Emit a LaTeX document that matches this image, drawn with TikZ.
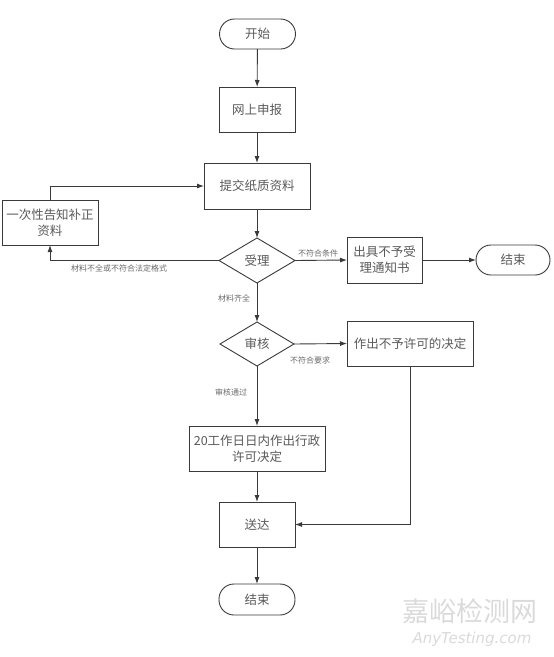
\documentclass[tikz,border=0pt]{standalone}
\usepackage{fontspec}
\newfontfamily\cjk{Noto Sans CJK SC}
\newfontfamily\wmlat{DejaVu Sans}
\usetikzlibrary{arrows.meta,shapes.geometric}
\definecolor{linec}{HTML}{3A3A3A}
\definecolor{textc}{HTML}{5A5A5A}
\definecolor{labc}{HTML}{6A6A6A}
\definecolor{wmc}{HTML}{DADADA}
\begin{document}
\begin{tikzpicture}[x=1pt,y=-1pt,
  box/.style={draw=linec, line width=0.9pt, fill=white, align=center, inner sep=1pt, outer sep=0pt,
    font=\cjk\fontsize{12.5}{16}\selectfont, text=textc},
  term/.style={box, rounded corners=15pt},
  dia/.style={box, diamond, inner sep=0pt},
  lab/.style={font=\cjk\fontsize{8}{9}\selectfont, text=labc, inner sep=0pt},
  conn/.style={draw=linec, line width=0.9pt},
  arr/.style={conn, -{Latex[length=7pt,width=5pt]}}]
\useasboundingbox (0,0) rectangle (554,657);
% watermark
\node[font=\cjk\fontsize{27}{30}\selectfont, text=wmc, inner sep=0pt] (wm1) at (470,611) {嘉峪检测网};
\node[font=\wmlat\itshape\fontsize{15}{17}\selectfont, text=wmc, inner sep=0pt] (wm2) at (472,639) {AnyTesting.com};
% nodes
\node[term, minimum width=76pt, minimum height=30pt] (start) at (257.5,34) {开始};
\node[box, minimum width=76pt, minimum height=45pt] (wang) at (257,109.5) {网上申报};
\node[box, minimum width=106pt, minimum height=46pt] (tijiao) at (257,186) {提交纸质资料};
\node[box, minimum width=96pt, minimum height=45pt] (buzheng) at (50,222.5) {一次性告知补正\\资料};
\node[dia, minimum width=76pt, minimum height=45pt] (shouli) at (257,260.5) {受理};
\node[box, minimum width=75pt, minimum height=46pt] (chuju) at (384.5,260) {出具不予受\\理通知书};
\node[term, minimum width=74pt, minimum height=30pt] (end1) at (513,260) {结束};
\node[dia, minimum width=74pt, minimum height=44pt] (shenhe) at (257,344) {审核};
\node[box, minimum width=126pt, minimum height=45pt] (zuochu) at (410,343.5) {作出不予许可的决定};
\node[box, minimum width=136pt, minimum height=45pt] (xuke) at (257,448.5) {20工作日日内作出行政\\许可决定};
\node[box, minimum width=76pt, minimum height=45pt] (songda) at (257,524.5) {送达};
\node[term, minimum width=76pt, minimum height=31pt] (end2) at (257,599.5) {结束};
% connectors
\draw[arr] (start) -- (wang);
\draw[arr] (wang) -- (tijiao);
\draw[arr] (tijiao) -- (shouli);
\draw[arr] (shouli.west) -| (buzheng.south);
\draw[arr] (buzheng.north) |- (tijiao.west);
\draw[arr] (shouli.east) -- (chuju.west);
\draw[arr] (chuju) -- (end1);
\draw[arr] (shouli) -- (shenhe);
\draw[arr] (shenhe.east) -- (zuochu.west);
\draw[arr] (shenhe) -- (xuke);
\draw[arr] (xuke) -- (songda);
\draw[arr] (zuochu.south) |- (songda.east);
\draw[arr] (songda) -- (end2);
% labels
\node[lab] (l1) at (119,268) {材料不全或不符合法定格式};
\node[lab] (l2) at (318,253) {不符合条件};
\node[lab] (l3) at (234,298) {材料齐全};
\node[lab] (l4) at (310,360) {不符合要求};
\node[lab] (l5) at (231,392) {审核通过};
\end{tikzpicture}
\end{document}
